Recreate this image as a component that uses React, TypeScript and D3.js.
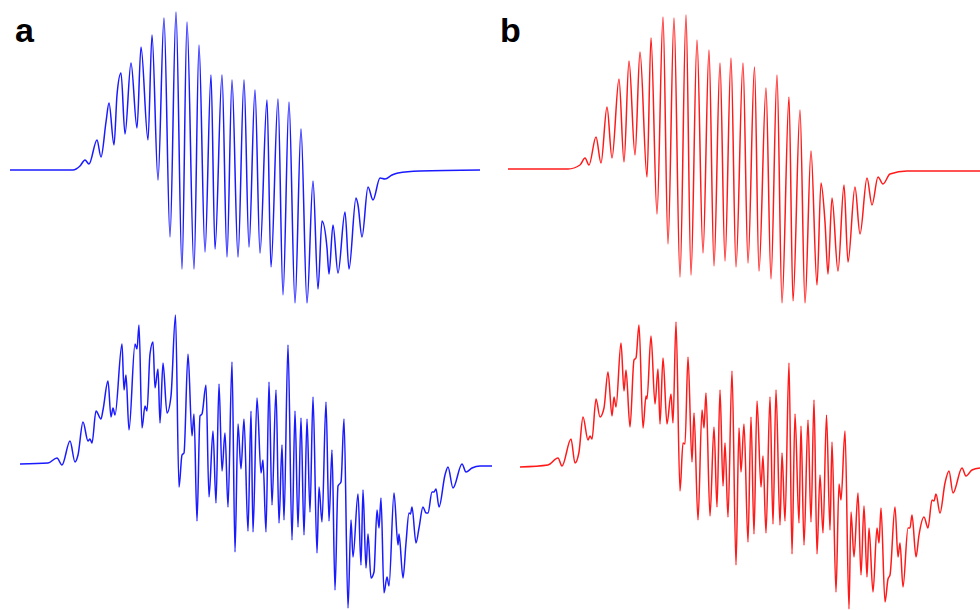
import React from "react";
import * as d3 from "d3";

// Field position (arbitrary units) and signal amplitude (arbitrary units, baseline = 0)
type Pt = [number, number];

const panelLabels = ["a", "b"];

const topA: Pt[] = [
  [0, 0], [63, 0], [70, 4], [75, 10], [79, 6], [87, 30], [91, 13], [96, 48], [99, 67], [104, 25],
  [107, 75], [111, 97], [115, 36], [121, 107], [127, 42], [131, 123], [138, 30], [142, 135], [148, -10],
  [154, 152], [160, -67], [166, 158], [172, -99], [177, 148], [184, -99], [189, 125], [195, -82],
  [201, 95], [205, -79], [212, 95], [217, -87], [222, 90], [228, -87], [234, 90], [239, -77],
  [245, 80], [250, -83], [257, 70], [261, -97], [268, 71], [273, -125], [279, 68], [285, -133],
  [291, 41], [297, -133], [303, -11], [308, -119], [312, -51], [317, -78], [319, -104], [323, -55],
  [328, -103], [335, -42], [339, -99], [346, -28], [348, -35], [352, -67], [358, -17], [363, -30],
  [370, -8], [375, -9], [382, -5], [388, -3], [410, -1], [470, 0],
];

const bottomA: Pt[] = [
  [0, 1], [28, 2], [37, 7], [42, 0], [50, 24], [55, 3], [58, 10], [63, 43], [68, 24], [70, 26],
  [72, 22], [76, 54], [81, 46], [83, 55], [88, 84], [91, 48], [93, 57], [95, 50], [102, 121],
  [104, 75], [106, 90], [109, 35], [115, 121], [117, 116], [119, 140], [122, 37], [125, 59],
  [127, 54], [130, 111], [133, 123], [135, 77], [138, 96], [140, 42], [143, 102], [147, 52],
  [151, 69], [155.5, 150], [159, -22], [162, 10], [164, 12], [168, 111], [172, 29], [174, 51],
  [177, -56], [180, 49], [182, 51], [186, 80], [189, -32], [193, 34], [196, -38], [199, 81],
  [202, -6], [205, 32], [208, -42], [212, 103], [215, -87], [218, 41], [221, -4], [224, 46],
  [228, -66], [231, 54], [233, -67], [237, 67], [241, -8], [243, 5], [246, -67], [249, 83],
  [252, -40], [256, 75], [259, -58], [262, 20], [264, -55], [268, 120], [272, -75], [275, 54],
  [278, -62], [281, 47], [284, -70], [287, 46], [290, -47], [293, 68], [297, -88], [299, -22],
  [302, -57], [306, 63], [309, -56], [312, 15], [315, -125], [318, -21], [321, -17], [324, 46],
  [328, -143], [331, -55], [333, -92], [338, -29], [341, -100], [343, -25], [346, -103], [348, -69],
  [351, -113], [354, -107], [357, -45], [359, -63], [361, -33], [364, -128], [367, -112], [369, -121],
  [374, -28], [378, -80], [379, -69], [383, -113], [386, -78], [389, -48], [390.5, -49], [392, -42],
  [396, -78], [399, -63], [403, -42], [406, -48], [408, -48], [412, -27], [414, -27], [416, -24],
  [419, -42], [425, -10], [428, -2], [433, -23], [442, 1], [446, -7], [452, -3], [460, -1], [472, -1],
];

const topB: Pt[] = [
  [0, 0], [60, 0], [72, 4], [77, 11], [81, 4], [88, 32], [93, 6], [99, 62], [104, 11], [111, 90],
  [116, 7], [121, 108], [127, 14], [132, 117], [139, -8], [143, 131], [149, -45], [155, 152],
  [160, -75], [166, 151], [172, -108], [178, 154], [183, -106], [189, 129], [195, -84], [201, 119],
  [206, -97], [212, 106], [217, -92], [223, 111], [228, -98], [235, 106], [240, -94], [246.5, 102],
  [251, -102], [258, 81], [263, -110], [269, 94], [274, -134], [281, 72], [285, -132], [292, 59],
  [297, -134], [303, 18], [309, -116], [313, -14], [317, -53], [320, -105], [324, -29], [330, -102],
  [336, -16], [340, -93], [347, -18], [352, -65], [359, -9], [364, -36], [370, -8], [375, -15],
  [382, -5], [399, -2], [432, -2], [472, -2],
];

const bottomB: Pt[] = [
  [0, -1], [28, 1], [38, 8], [42, 0], [51, 27], [55, 3], [59, 14], [63, 49], [68, 26], [70, 30],
  [72, 27], [76, 67], [80, 49], [84, 58], [88, 94], [92, 50], [94, 69], [96, 59], [101, 123],
  [104, 75], [106, 96], [110, 39], [114, 106], [116, 108], [119, 141], [123, 38], [126, 70],
  [127, 67], [131, 130], [135, 62], [138, 97], [140, 42], [143, 108], [147, 42], [151, 72],
  [153, 43], [156, 144], [160, -25], [163, 23], [165, 22], [168, 109], [172, 4], [174, 53],
  [178, -54], [182, 56], [184, 38], [186, 73], [190, -50], [194, 39], [197, -41], [200, 76],
  [203, -20], [205, 23], [208, -51], [212, 95], [216, -99], [219, 38], [221, -6], [224, 42],
  [228, -76], [231, 49], [234, -68], [237, 65], [241, -21], [243, 10], [246, -67], [250, 69],
  [253, -58], [256, 76], [260, -59], [262, 13], [265, -55], [269, 103], [272, -88], [275, 52],
  [279, -57], [281, 40], [284, -79], [288, 46], [291, -56], [294, 66], [297, -88], [300, -9],
  [303, -67], [306.5, 51], [310, -64], [312, 24], [316, -126], [319, -18], [321, -34], [325, 35],
  [329, -143], [331, -46], [334, -91], [338, -27], [341, -109], [344, -40], [347, -111], [349, -62],
  [353, -126], [357, -62], [359, -77], [361, -42], [365, -136], [368, -113], [370, -109], [375, -41],
  [378, -91], [380, -77], [383, -121], [388, -62], [390, -62], [392, -49], [396, -91], [399, -69],
  [404, -51], [408, -62], [412, -34], [414, -35], [416, -28], [420, -47], [425, -17], [429, -5],
  [433, -27], [442, -2], [446, -10], [452, -4], [460, -2],
];

const W = 980;
const H = 610;

const panels = [
  { data: topA, left: 10, base: 170, color: "#1a1aff" },
  { data: bottomA, left: 20, base: 465, color: "#1a1aff" },
  { data: topB, left: 508, base: 169, color: "#ff1a1a" },
  { data: bottomB, left: 520, base: 466, color: "#ff1a1a" },
];

const labelPos = [
  { x: 15, y: 42 },
  { x: 500, y: 42 },
];

export default function App() {
  return (
    <svg
      width={W}
      height={H}
      style={{ position: "absolute", left: 0, top: 0, background: "#fff" }}
    >
      <rect width={W} height={H} fill="#fff" />
      {panels.map((p, i) => {
        const x = d3.scaleLinear().domain([0, 480]).range([p.left, p.left + 480]);
        const y = d3.scaleLinear().domain([-150, 160]).range([p.base + 150, p.base - 160]);
        const line = d3
          .line<Pt>()
          .x((d) => x(d[0]))
          .y((d) => y(d[1]))
          .curve(d3.curveMonotoneX);
        return (
          <path
            key={i}
            d={line(p.data) || ""}
            fill="none"
            stroke={p.color}
            strokeWidth={1.5}
            strokeLinejoin="round"
          />
        );
      })}
      {panelLabels.map((t, i) => (
        <text
          key={t}
          x={labelPos[i].x}
          y={labelPos[i].y}
          fontFamily="'Liberation Sans', Arial, sans-serif"
          fontWeight="bold"
          fontSize={34}
          fill="#000"
        >
          {t}
        </text>
      ))}
    </svg>
  );
}
